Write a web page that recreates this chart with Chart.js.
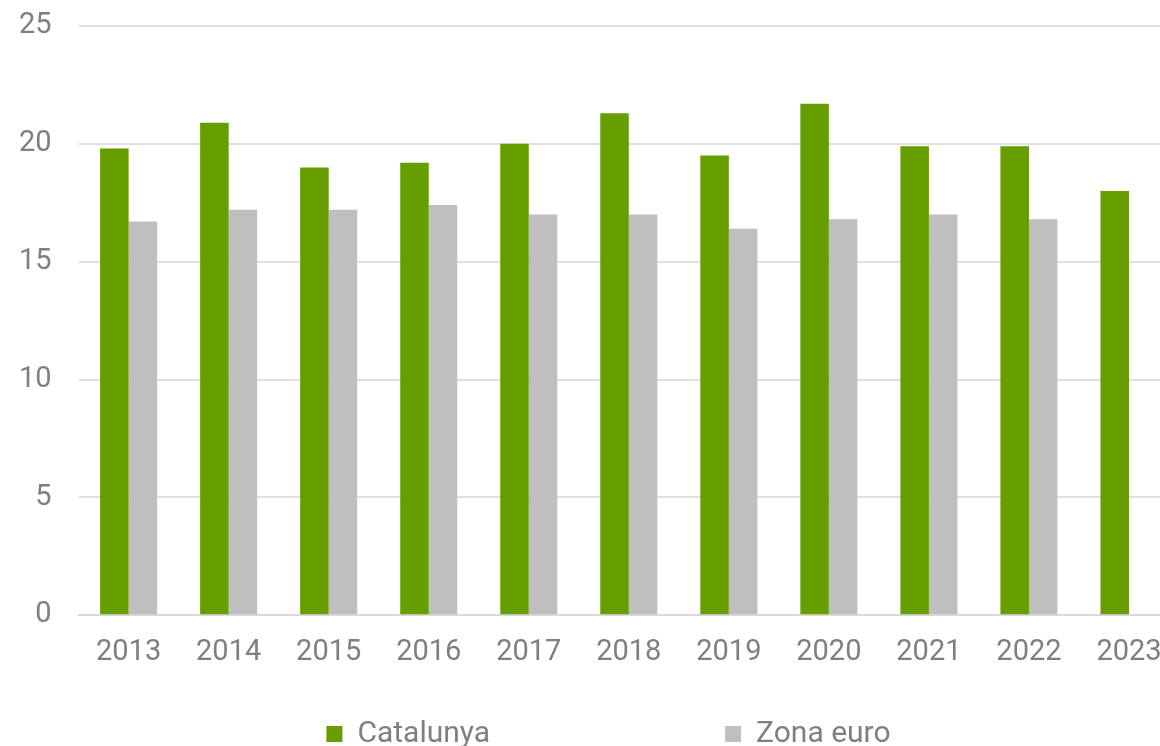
<!DOCTYPE html>
<html><head><meta charset="utf-8">
<script src="https://cdn.jsdelivr.net/npm/chart.js@4/dist/chart.umd.min.js"></script>
<style>html,body{margin:0;padding:0;overflow:hidden;background:#fff;width:1160px;height:746px}
#wrap{width:1193px;height:746px;position:relative}</style></head>
<body><div id="wrap"><canvas id="c" width="1193" height="746"></canvas></div>
<script>
const categories = ['2013','2014','2015','2016','2017','2018','2019','2020','2021','2022','2023'];
const catalunya = [19.8,20.9,19.0,19.2,20.0,21.3,19.5,21.7,19.9,19.9,18.0];
const zonaEuro  = [16.7,17.2,17.2,17.4,17.0,17.0,16.4,16.8,17.0,16.8,null];
const yTicks = [0,5,10,15,20,25];
const seriesNames = ['Catalunya','Zona euro'];

const LEG_PAD = 235;       // horizontal gap between legend items
const LEG_HEIGHT = 64;     // space reserved for the legend
const LEG_ITEM_TOP = 719;  // y of legend row
const LEG_SHIFT = 23;      // horizontal shift of the legend

const legendSpacing = {
  id:'legendSpacing',
  beforeInit(chart){
    const lg = chart.legend;
    if (!lg) return;
    const fit = lg.fit;
    lg.fit = function(){ fit.call(this); this.height = LEG_HEIGHT; };
  },
  afterLayout(chart){
    const lg = chart.legend;
    lg.top = LEG_ITEM_TOP - LEG_PAD;
    lg.bottom = chart.height;
    lg.left += LEG_SHIFT; lg.right += LEG_SHIFT;
  }
};

const font = {family:'Roboto', size:29};
const legendFont = {family:'Roboto', size:30};
new Chart(document.getElementById('c'), {
  type:'bar',
  data:{labels:categories, datasets:[
    {label:seriesNames[0], data:catalunya, backgroundColor:'#669e00', borderWidth:0},
    {label:seriesNames[1], data:zonaEuro, backgroundColor:'#bfbfbf', borderWidth:0}
  ]},
  plugins:[legendSpacing],
  options:{
    responsive:false, animation:false,
    layout:{padding:{top:0,right:14,left:-8,bottom:0}},
    datasets:{bar:{categoryPercentage:0.57, barPercentage:1.0}},
    plugins:{
      tooltip:{enabled:false},
      legend:{position:'bottom', labels:{font:legendFont, color:'#7f7f7f', boxWidth:16, boxHeight:16, padding:LEG_PAD}}
    },
    scales:{
      x:{grid:{display:false}, border:{display:true,color:'#d9d9d9',width:2},
         ticks:{font:font,color:'#7f7f7f',padding:12}},
      y:{min:0,max:25, afterBuildTicks:(s)=>{s.ticks=yTicks.map(v=>({value:v}));},
         afterFit:(s)=>{s.paddingTop=26; s.paddingBottom=0;},
         grid:{color:'#e0e0e0',lineWidth:2,drawTicks:false}, border:{display:false},
         ticks:{font:font,color:'#7f7f7f',padding:27}}
    }
  }
});
</script></body></html>
